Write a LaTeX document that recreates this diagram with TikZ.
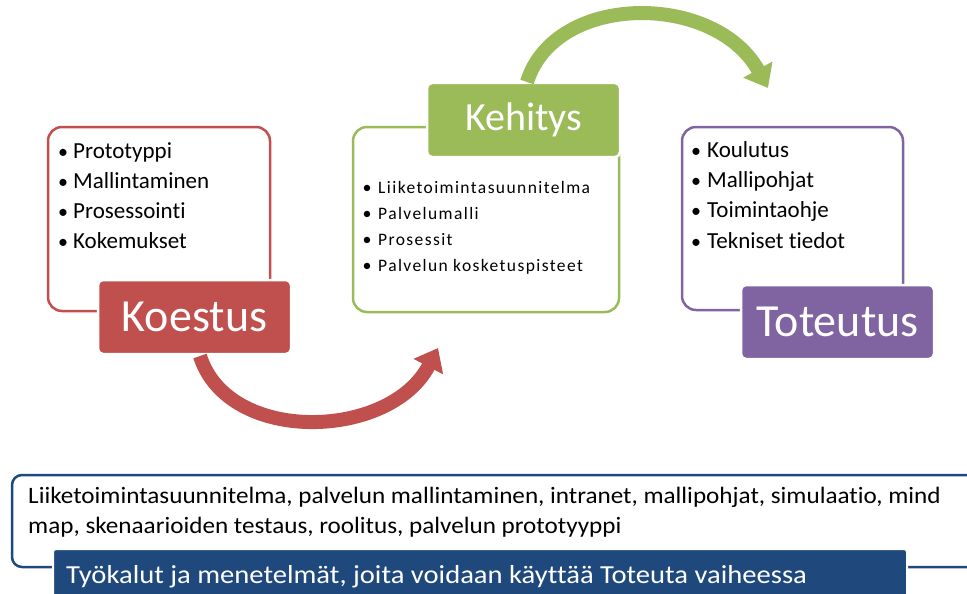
\documentclass[tikz,border=0pt]{standalone}
\usepackage{fontspec}
\setmainfont{Carlito}[Ligatures=NoCommon]
\usetikzlibrary{arrows.meta}
\definecolor{cred}{HTML}{C0504D}
\definecolor{cgreen}{HTML}{9BBB59}
\definecolor{cpurple}{HTML}{8064A2}
\definecolor{cblue}{HTML}{1F497D}
\begin{document}
\begin{tikzpicture}[x=1pt,y=-1pt,
  outbox/.style={draw=#1, line width=2.5pt, rounded corners=14pt, inner sep=0pt},
  titlebox/.style={fill=#1, draw=white, line width=2.5pt, rounded corners=5pt, inner sep=0pt,
    text=white, minimum width=193pt, minimum height=74pt},
  item/.style={inner sep=0pt, anchor=base west, font=\fontsize{23pt}{27pt}\selectfont},
  gitem/.style={inner sep=0pt, anchor=base west, font=\fontsize{17.5pt}{21pt}\selectfont\addfontfeatures{LetterSpace=8}},
  bul/.style={inner sep=0pt, anchor=base, font=\fontsize{20pt}{24pt}\selectfont},
  bigarrow/.style={line width=14pt, draw=#1, -{Triangle[length=21pt,width=32pt]}},
  btext/.style={inner sep=0pt, anchor=base west, font=\fontsize{23.5pt}{27pt}\selectfont},
]
\useasboundingbox (0,0) rectangle (967,594);
\clip (0,0) rectangle (967,594);

% Koestus
\node[outbox=cred, minimum width=222pt, minimum height=184pt] (rbox) at (159,219) {};
\node[titlebox=cred, font=\fontsize{46pt}{50pt}\selectfont] (koe) at (194.5,317) {Koestus};
\foreach \t [count=\i] in {Prototyppi, Mallintaminen, Prosessointi, Kokemukset}{
  \node[item] (r\i) at (73,128+30*\i) {\t};
  \node[bul] (rb\i) at (63,128+30*\i) {•};
}

% Kehitys
\node[outbox=cgreen, minimum width=266pt, minimum height=185pt] (gbox) at (486,219.5) {};
\node[titlebox=cgreen, font=\fontsize{40pt}{44pt}\selectfont] (keh) at (523.5,120) {Kehitys};
\foreach \t [count=\i] in {Liiketoimintasuunnitelma, Palvelumalli, Prosessit, Palvelun kosketuspisteet}{
  \node[gitem] (g\i) at (378,166.7+26.3*\i) {\t};
  \node[bul, font=\fontsize{18pt}{21pt}\selectfont] (gb\i) at (367,166.7+26.3*\i) {•};
}

% Toteutus
\node[outbox=cpurple, minimum width=221pt, minimum height=183pt] (pbox) at (792.5,218.5) {};
\node[titlebox=cpurple, font=\fontsize{46pt}{50pt}\selectfont] (tot) at (837.5,322) {Toteutus};
\foreach \t [count=\i] in {Koulutus, Mallipohjat, Toimintaohje, Tekniset tiedot}{
  \node[item] (p\i) at (707,127+30.3*\i) {\t};
  \node[bul] (pb\i) at (696,127+30.3*\i) {•};
}

% arrows
\coordinate (rs) at (200,356);
\coordinate (re) at (438,348);
\draw[bigarrow=cred] (rs) .. controls (228,445) and (390,440) .. (re);
\coordinate (gs) at (527,82);
\coordinate (ge) at (768,88);
\draw[bigarrow=cgreen] (gs) .. controls (555,-8) and (715,-8) .. (ge);

% bottom
\node[outbox=cblue, rounded corners=10pt, minimum width=978pt, minimum height=92pt] (bbox) at (501,521) {};
\node[btext] (bt1) at (28,503)
  {\scalebox{1.07}[1]{Liiketoimintasuunnitelma,\ palvelun mallintaminen, intranet,\ mallipohjat, simulaatio, mind}};
\node[btext] (bt2) at (28,533)
  {\scalebox{1.07}[1]{map, skenaarioiden testaus, roolitus, palvelun prototyyppi}};
\node[fill=cblue, draw=white, line width=2pt, rounded corners=3pt, minimum width=854pt, minimum height=56pt, inner sep=0pt] (lab) at (480,577) {};
\node[inner sep=0pt, anchor=base west, text=white, font=\fontsize{26pt}{30pt}\selectfont] (labt) at (66,583)
  {\scalebox{1.1}[1]{Työkalut ja menetelmät, joita voidaan käyttää Toteuta vaiheessa}};
\end{tikzpicture}
\end{document}
